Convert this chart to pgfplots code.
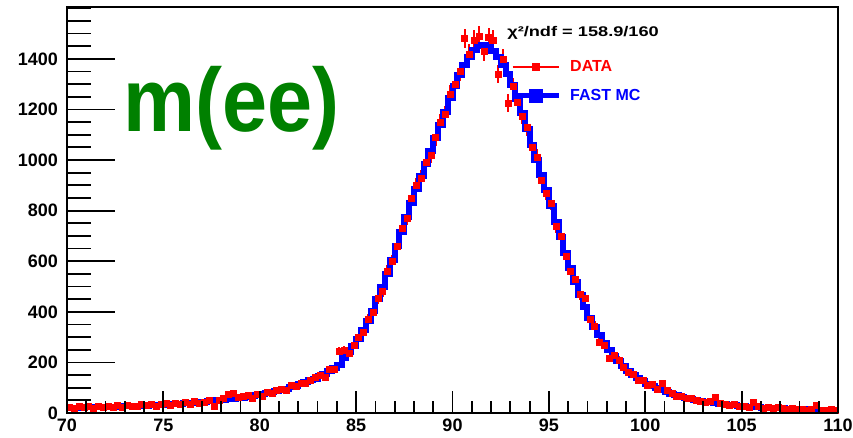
\documentclass[border=0pt]{standalone}
\usepackage{fontspec}
\setmainfont{Liberation Sans}
\usepackage{pgfplots}
\usepackage{pgfplotstable}
\pgfplotsset{compat=1.18}
\definecolor{rootgreen}{RGB}{0,128,0}
\pgfplotstableread{
x mc d
70.125 20 24
70.375 21 19
70.625 21 26
70.875 22 22
71.125 22 25
71.375 23 20
71.625 23 27
71.875 24 23
72.125 24 28
72.375 25 22
72.625 25 30
72.875 26 24
73.125 26 31
73.375 27 27
73.625 28 25
73.875 29 33
74.125 29 30
74.375 30 35
74.625 31 28
74.875 32 36
75.125 33 38
75.375 34 32
75.625 35 40
75.875 36 35
76.125 38 44
76.375 39 36
76.625 41 47
76.875 42 40
77.125 44 42
77.375 46 51
77.625 48 26
77.875 50 50
78.125 52 58
78.375 54 75
78.625 57 80
78.875 59 62
79.125 61 65
79.375 64 72
79.625 67 58
79.875 70 74
80.125 74 66
80.375 78 82
80.625 82 79
80.875 86 90
81.125 91 95
81.375 96 92
81.625 102 108
81.875 107 104
82.125 114 118
82.375 121 116
82.625 129 128
82.875 136 140
83.125 145 150
83.375 156 142
83.625 168 175
83.875 179 172
84.125 190 245
84.375 217 250
84.625 240 238
84.875 263 270
85.125 292 300
85.375 327 320
85.625 365 372
85.875 405 400
86.125 450 452
86.375 500 480
86.625 551 560
86.875 604 600
87.125 659 660
87.375 716 730
87.625 774 770
87.875 831 850
88.125 885 900
88.375 935 930
88.625 985 990
88.875 1035 1020
89.125 1086 1090
89.375 1139 1150
89.625 1191 1180
89.875 1244 1260
90.125 1292 1300
90.375 1337 1350
90.625 1376 1480
90.875 1409 1420
91.125 1435 1475
91.375 1450 1490
91.625 1453 1430
91.875 1445 1485
92.125 1430 1475
92.375 1408 1340
92.625 1376 1400
92.875 1340 1225
93.125 1295 1290
93.375 1242 1230
93.625 1184 1175
93.875 1121 1130
94.125 1060 1050
94.375 1000 1010
94.625 940 920
94.875 880 870
95.125 819 830
95.375 756 740
95.625 694 700
95.875 631 620
96.125 572 560
96.375 517 530
96.625 466 470
96.875 418 455
97.125 377 370
97.375 340 345
97.625 307 280
97.875 277 270
98.125 250 215
98.375 227 230
98.625 205 210
98.875 185 180
99.125 167 160
99.375 152 155
99.625 139 130
99.875 126 128
100.125 116 110
100.375 107 112
100.625 98 95
100.875 89 118
101.125 82 90
101.375 76 80
101.625 71 68
101.875 65 66
102.125 60 58
102.375 56 60
102.625 52 50
102.875 48 46
103.125 45 44
103.375 42 48
103.625 39 64
103.875 36 40
104.125 34 36
104.375 32 30
104.625 30 33
104.875 28 26
105.125 26 28
105.375 25 24
105.625 24 44
105.875 23 25
106.125 21 20
106.375 20 24
106.625 19 18
106.875 18 22
107.125 18 20
107.375 17 15
107.625 16 18
107.875 15 16
108.125 15 17
108.375 14 12
108.625 13 14
108.875 12 30
109.125 12 13
109.375 11 12
109.625 11 14
109.875 10 10
}\zdata

\begin{document}
\begin{tikzpicture}[x=1pt,y=1pt]
\useasboundingbox (0,0) rectangle (853,437);
\begin{axis}[
  at={(67pt,24pt)}, anchor=south west,
  scale only axis, width=771pt, height=406pt,
  xmin=70, xmax=110, ymin=0, ymax=1605,
  xtick=\empty,
  ytick={0,200,...,1400},
  minor ytick={50,100,...,1600},
  tick align=inside, ytick pos=left,
  major tick length=48pt, minor tick length=24pt,
  every tick/.style={black, line width=1.8pt},
  axis line style={line width=2.5pt},
  /pgf/number format/assume math mode=true,
  /pgf/number format/1000 sep={},
  yticklabel style={font=\bfseries\fontsize{18}{18}\selectfont, inner sep=0pt, anchor=east},
  yticklabel shift=9pt,
  legend style={draw=none, fill=none, at={(axis description cs:0.5746,0.873)}, anchor=north west,
    inner sep=0pt, row sep=12pt, column sep=7pt,
    font=\bfseries\fontsize{16}{16}\selectfont},
  legend cell align=left,
]
\addplot[red, only marks, mark=square*, mark size=3pt,
  error bars/.cd, y dir=both, y explicit, error mark=none,
  error bar style={line width=2pt, red},
  /pgfplots/legend image code/.code={\draw[red, line width=2pt] (0pt,0pt) -- (46pt,0pt); \fill[red] (19.5pt,-3.5pt) rectangle (26.5pt,3.5pt);},
  ]
  table[x=x, y=d, y error expr=sqrt(\thisrow{d})] {\zdata};
\addlegendentry[text=red]{DATA}
\addplot[blue, line width=6pt, const plot mark mid,
  legend image code/.code={\draw[blue, line width=5pt] (0pt,0pt) -- (46pt,0pt); \fill[blue] (19pt,-4pt) rectangle (27pt,4pt);}]
  table[x=x, y=mc] {\zdata};
\addlegendentry[text=blue]{FAST MC}
\end{axis}
\begin{axis}[
  at={(67pt,24pt)}, anchor=south west,
  scale only axis, width=771pt, height=406pt,
  xmin=70, xmax=110, ymin=0, ymax=1605,
  hide y axis,
  xtick={70,75,...,110},
  minor xtick={71,...,109},
  tick align=inside, xtick pos=bottom,
  major tick length=22pt, minor tick length=12pt,
  every tick/.style={black, line width=1.8pt},
  axis line style={line width=2.5pt},
  /pgf/number format/assume math mode=true,
  xticklabel style={font=\bfseries\fontsize{18}{18}\selectfont, inner sep=0pt, anchor=north},
  xticklabel shift=6pt,
]
\end{axis}
\node[anchor=west, inner sep=0pt, font=\bfseries\fontsize{14}{14}\selectfont, xscale=1.3] at (507,404) {χ²/ndf = 158.9/160};
\node[anchor=base west, inner sep=0pt, text=rootgreen, font=\bfseries\fontsize{90}{90}\selectfont, xscale=0.9] at (123,305) {m(ee)};
\end{tikzpicture}
\end{document}
